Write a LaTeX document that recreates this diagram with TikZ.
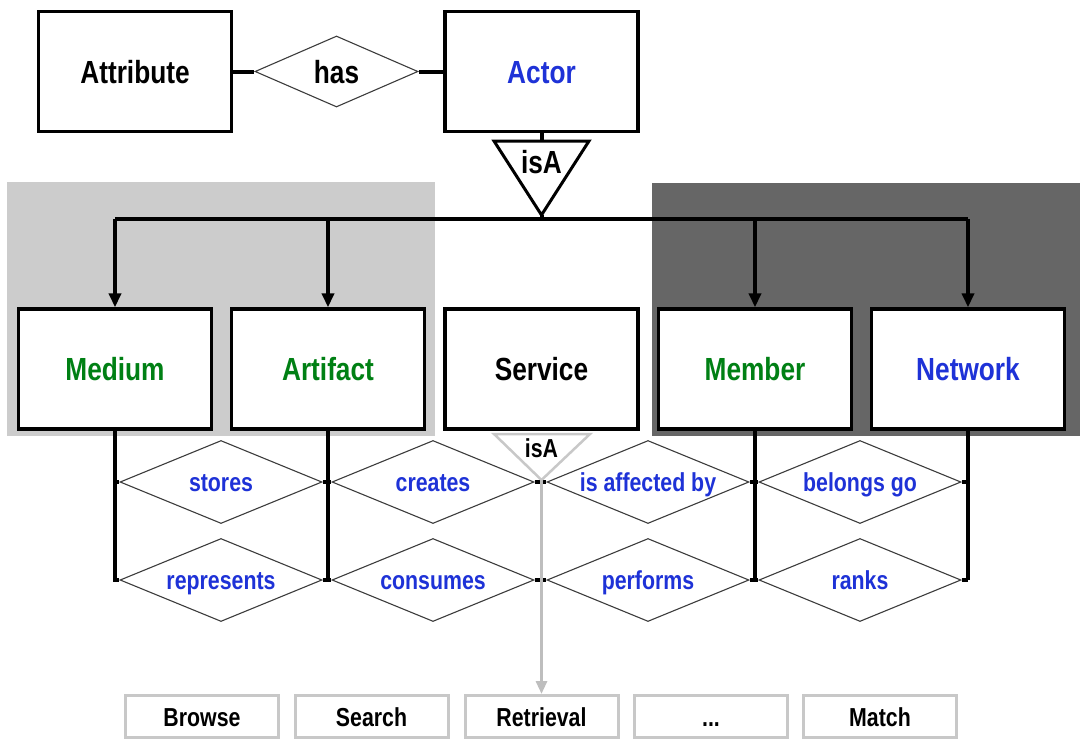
\documentclass[tikz,border=0pt]{standalone}
\usepackage{fontspec}
\setmainfont{Liberation Sans}[FakeStretch=0.82]
\usetikzlibrary{shapes.geometric,arrows.meta}
\definecolor{myblue}{RGB}{30,50,215}
\definecolor{mygreen}{RGB}{0,128,20}
\definecolor{lightbg}{RGB}{204,204,204}
\definecolor{darkbg}{RGB}{102,102,102}
\definecolor{lgray}{RGB}{200,200,200}
\definecolor{gline}{RGB}{190,190,190}
\definecolor{dline}{RGB}{60,60,60}
\begin{document}
\begin{tikzpicture}[x=1pt,y=-1pt,
  bigtext/.style={font=\bfseries\fontsize{32}{36}\selectfont,text height=23pt,text depth=0pt},
  smalltext/.style={font=\bfseries\fontsize{26}{30}\selectfont,text height=19pt,text depth=0pt},
  entity/.style={draw=black,line width=3.3pt,fill=white,minimum width=193pt,minimum height=120pt,inner sep=0pt,bigtext},
  rel/.style={diamond,draw=dline,line width=1.1pt,fill=white,aspect=2.4,inner sep=0pt,minimum width=202pt,minimum height=83pt,text=myblue,smalltext},
  leaf/.style={draw=lgray,line width=3pt,fill=white,minimum width=153pt,minimum height=42pt,inner sep=0pt,smalltext},
  conn/.style={draw=black,line width=4pt},
  arr/.style={-{Triangle[length=14pt,width=12pt]}},
  garr/.style={draw=gline,line width=3pt,-{Triangle[length=13pt,width=11pt]}},
  isatri/.style={draw=black,line width=3pt,fill=white,line join=miter},
  isbtri/.style={draw=lgray,line width=2.5pt,fill=white,line join=miter}
]
\useasboundingbox (0,0) rectangle (1085,745);
% backgrounds
\fill[lightbg] (7,182) rectangle (435,436);
\fill[darkbg] (652,183) rectangle (1080,436);

% top row
\node[entity] (Attribute) at (135,71.5) {Attribute};
\node[entity,text=myblue] (Actor) at (541.5,71.5) {Actor};
\node[rel,text=black,minimum width=163pt,minimum height=71pt,bigtext] (has) at (336.5,71.5) {has};
\draw[conn] (Attribute.east) -- (has.west);
\draw[conn] (has.east) -- (Actor.east -| Actor.west);

% isA triangle (top)
\coordinate (isaL) at (494,141);
\coordinate (isaR) at (589,141);
\coordinate (isaApex) at (541.5,215);
\coordinate (isaTop) at (541.5,141);
\coordinate (bar) at (541.5,219);
\draw[conn] (Actor.south) -- (isaTop);

% second row
\node[entity,text=mygreen] (Medium) at (115,369) {Medium};
\node[entity,text=mygreen] (Artifact) at (328,369) {Artifact};
\node[entity] (Service) at (541.5,369) {Service};
\node[entity,text=mygreen] (Member) at (755,369) {Member};
\node[entity,text=myblue] (Network) at (968,369) {Network};

\draw[conn] (Medium.north |- bar) -- (Network.north |- bar);
\draw[conn] (isaApex) -- (bar);
\foreach \n in {Medium,Artifact,Member,Network}
  \draw[conn,arr] (\n.north |- bar) -- (\n.north);

\draw[isatri] (isaL) -- (isaR) -- (isaApex) -- cycle;
\node[bigtext] (isaText) at (541.5,162) {isA};

% relationship diamonds
\node[rel] (stores) at (221,482) {stores};
\node[rel] (creates) at (433,482) {creates};
\node[rel] (affected) at (648,482) {is affected by};
\node[rel] (belongs) at (860,482) {belongs go};
\node[rel] (represents) at (221,580) {represents};
\node[rel] (consumes) at (433,580) {consumes};
\node[rel] (performs) at (648,580) {performs};
\node[rel] (ranks) at (860,580) {ranks};

% black connectors
\draw[conn] (Medium.south) |- (represents.west);
\draw[conn] (Medium.south |- stores.west) -- (stores.west);
\draw[conn] (Artifact.south) -- (Artifact.south |- represents.east);
\draw[conn] (stores.east) -- (creates.west);
\draw[conn] (represents.east) -- (consumes.west);
\draw[conn] (Member.south) -- (Member.south |- performs.east);
\draw[conn] (affected.east) -- (belongs.west);
\draw[conn] (performs.east) -- (ranks.west);
\draw[conn] (Network.south) -- (Network.south |- ranks.east);
\draw[conn] (belongs.east) -- (belongs.east -| Network.south);
\draw[conn] (ranks.east) -- (ranks.east -| Network.south);
\draw[conn] (creates.east) -- (affected.west);
\draw[conn] (consumes.east) -- (performs.west);

% service isA (gray)
\coordinate (isbL) at (494,434);
\coordinate (isbR) at (590,434);
\coordinate (isbApex) at (541.5,480);
\draw[isbtri] (isbL) -- (isbR) -- (isbApex) -- cycle;
\node[smalltext] (isbText) at (541.5,448) {isA};

% service kinds
\node[leaf] (Browse) at (202,716.5) {Browse};
\node[leaf] (Search) at (371.5,716.5) {Search};
\node[leaf] (Retrieval) at (541.5,716.5) {Retrieval};
\node[leaf] (Dots) at (711,716.5) {...};
\node[leaf] (Match) at (880,716.5) {Match};
\draw[garr] (isbApex) -- (Retrieval.north);
\end{tikzpicture}
\end{document}
